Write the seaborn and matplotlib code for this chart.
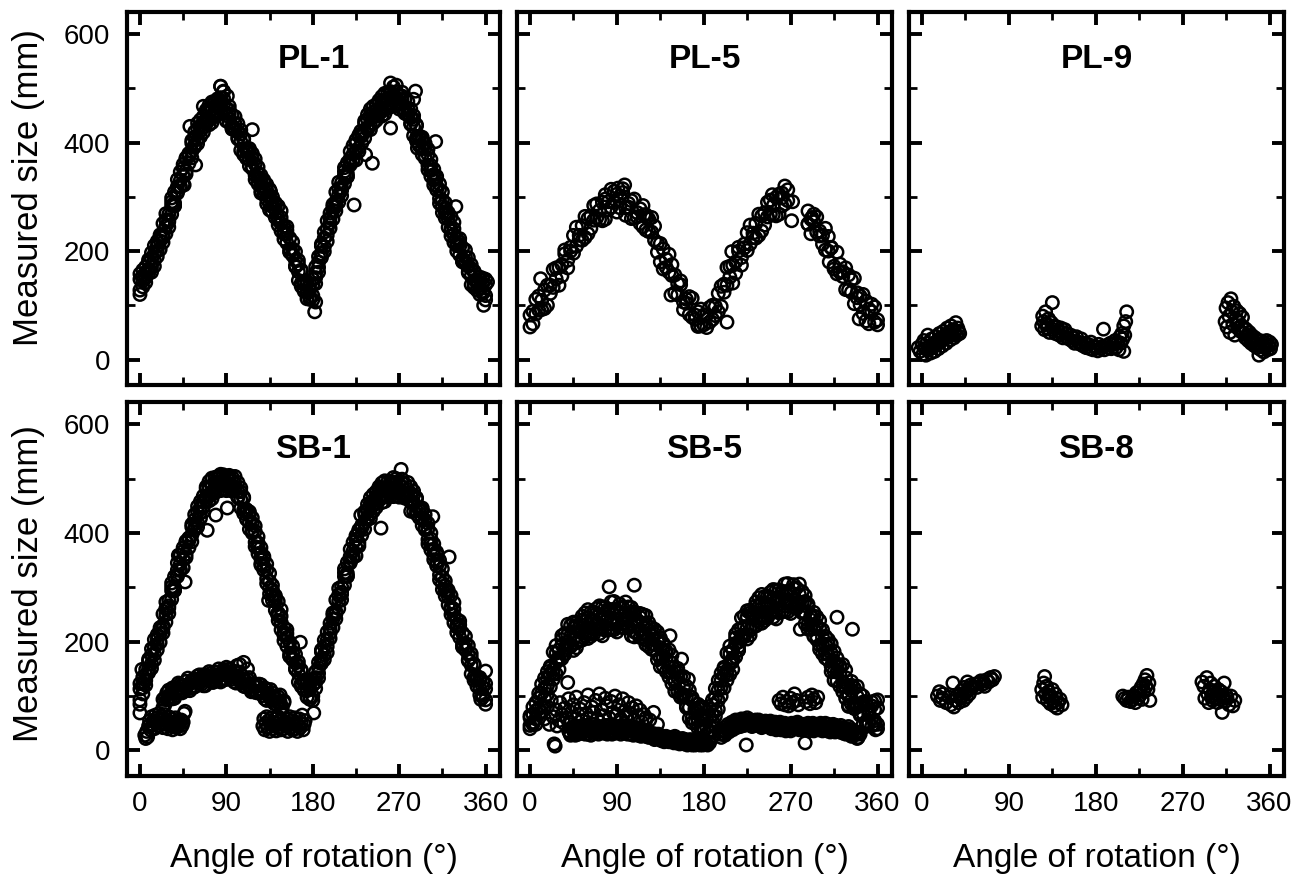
import numpy as np
import pandas as pd
import matplotlib
matplotlib.use("Agg")
import matplotlib.pyplot as plt
import seaborn as sns
from matplotlib.ticker import MultipleLocator

NA = np.nan

# Rotation angles (deg) of the full-turn scans
ANGLE_GRID = [0, 3, 6, 9, 12, 15, 18, 21, 24, 27, 30, 33, 36, 39, 42, 45, 48, 51, 54, 57,
              60, 63, 66, 69, 72, 75, 78, 81, 84, 87, 90, 93, 96, 99, 102, 105, 108, 111, 114, 117,
              120, 123, 126, 129, 132, 135, 138, 141, 144, 147, 150, 153, 156, 159, 162, 165, 168, 171, 174, 177,
              180, 183, 186, 189, 192, 195, 198, 201, 204, 207, 210, 213, 216, 219, 222, 225, 228, 231, 234, 237,
              240, 243, 246, 249, 252, 255, 258, 261, 264, 267, 270, 273, 276, 279, 282, 285, 288, 291, 294, 297,
              300, 303, 306, 309, 312, 315, 318, 321, 324, 327, 330, 333, 336, 339, 342, 345, 348, 351, 354, 357, 360]

# ---------------- PL-1 ----------------
pl1_pass1 = [148, 145, 171, 166, 186, 183, 218, 219, 225, 257,
             258, 284, 284, 319, 330, 339, 372, 375, 399, 396,
             426, 422, 448, 442, 458, 448, 476, 470, 478, 482,
             454, 453, 426, 435, 419, 402, 408, 384, 384, 356,
             360, 335, 340, 313, 312, 287, 300, 278, 257, 262,
             236, 231, 199, 204, 183, 162, 165, 139, 139, 115,
             138, 151, 190, 195, 224, 229, 270, 275, 283, 315,
             316, 340, 338, 371, 379, 384, 414, 412, 435, 428,
             452, 447, 470, 460, 474, 464, 491, 483, 477, 494,
             476, 479, 455, 463, 446, 429, 433, 407, 405, 375,
             378, 349, 351, 320, 313, 282, 289, 260, 237, 241,
             214, 209, 181, 189, 172, 154, 163, 141, 147, 126, 138]
pl1_pass2 = [128, 154, 151, 184, 170, 195, 190, 226, 230, 232,
             268, 268, 309, 307, 320, 353, 348, 379, 384, 420,
             406, 431, 428, 460, 442, 460, 448, 477, 483, 457,
             464, 437, 451, 423, 409, 416, 384, 388, 369, 380,
             340, 344, 320, 331, 296, 299, 272, 285, 262, 237,
             246, 215, 224, 192, 173, 176, 141, 143, 124, 139,
             118, 160, 170, 213, 208, 241, 242, 282, 288, 290,
             326, 324, 363, 359, 369, 398, 390, 416, 420, 452,
             432, 456, 450, 478, 458, 476, 463, 490, 482, 469,
             486, 463, 480, 451, 436, 443, 409, 411, 390, 399,
             358, 358, 331, 338, 297, 294, 261, 267, 242, 216,
             224, 193, 206, 177, 162, 168, 139, 145, 132, 150, 118]
pl1_pass3 = [158, 134, 161, 159, 197, 172, 209, 203, 251, 246,
             244, 291, 289, 332, 318, 360, 342, 380, 404, 392,
             436, 411, 438, 435, 469, 437, 467, 454, 504, 471,
             440, 460, 431, 448, 407, 423, 378, 389, 389, 352,
             370, 324, 330, 306, 323, 276, 291, 262, 283, 251,
             222, 238, 204, 217, 171, 183, 135, 144, 144, 111,
             148, 140, 180, 188, 235, 218, 261, 259, 309, 304,
             302, 347, 343, 384, 367, 405, 384, 417, 440, 424,
             462, 436, 460, 453, 485, 453, 482, 467, 503, 483,
             462, 486, 460, 476, 434, 450, 403, 412, 410, 371,
             388, 338, 341, 313, 324, 271, 280, 244, 263, 230,
             200, 216, 186, 202, 160, 175, 133, 146, 152, 122, 148]
pl1_pass4 = [120, 165, 142, 180, 161, 210, 200, 230, 216, 269,
             254, 298, 283, 310, 346, 323, 370, 362, 372, 410,
             398, 442, 419, 456, 433, 475, 458, 481, 469, 494,
             450, 467, 425, 426, 435, 386, 406, 371, 357, 370,
             332, 355, 311, 327, 287, 314, 282, 289, 248, 274,
             232, 245, 198, 195, 199, 146, 163, 126, 112, 129,
             110, 171, 161, 209, 199, 256, 252, 286, 274, 327,
             312, 354, 337, 362, 395, 368, 412, 399, 408, 442,
             424, 467, 441, 474, 449, 491, 473, 494, 468, 506,
             472, 493, 454, 454, 462, 413, 431, 394, 378, 389,
             350, 369, 322, 334, 288, 309, 271, 271, 228, 253,
             210, 223, 180, 180, 188, 138, 161, 128, 120, 140, 110]
pl1_extra_angle = [84, 87, 91, 66, 52, 58, 46, 126, 117, 136, 182, 183, 204,
                   223, 230, 235, 242, 261, 261, 287, 285, 289, 308, 329, 358, 362]
pl1_extra_size = [504, 495, 486, 467, 430, 359, 322, 307, 424, 310, 88, 106, 291,
                  285, 421, 378, 362, 427, 510, 495, 480, 390, 402, 282, 100, 143]

# ---------------- PL-5 ----------------
pl5_pass1 = [82, 66, 111, 91, 109, 94, 137, 122, 166, 149,
             170, 154, 195, 169, 207, 229, 209, 229, 220, 264,
             260, 242, 284, 261, 275, 256, 296, 276, 314, 290,
             305, 280, 308, 266, 288, 293, 261, 271, 251, 284,
             267, 236, 262, 220, 215, 180, 204, 170, 194, 155,
             156, 119, 138, 92, 111, 116, 78, 82, 61, 93,
             82, 59, 96, 74, 98, 88, 135, 124, 170, 152,
             174, 159, 200, 174, 213, 234, 213, 233, 224, 268,
             265, 248, 290, 268, 284, 265, 305, 283, 320, 293,
             NA, NA, NA, NA, NA, NA, 274, 232, 254, 263,
             228, 229, 202, 227, 206, 172, 198, 161, 162, 129,
             156, 124, 150, 114, 117, 85, 108, 66, 88, 97, 64]
pl5_pass2 = [60, 89, 84, 117, 92, 128, 100, 137, 133, 169,
             137, 175, 202, 183, 200, 196, 244, 221, 247, 225,
             232, 265, 257, 287, 258, 290, 259, 291, 281, 310,
             272, 301, 315, 280, 281, 260, 296, 263, 278, 245,
             239, 259, 235, 246, 198, 214, 167, 185, 161, 175,
             123, 140, 145, 106, 104, 83, 113, 74, 88, 62,
             64, 82, 69, 100, 81, 122, 98, 139, 137, 172,
             141, 180, 207, 188, 206, 201, 248, 225, 251, 229,
             237, 271, 263, 294, 267, 299, 268, 298, 287, 313,
             NA, NA, NA, NA, NA, NA, 250, 259, 268, 235,
             237, 213, 242, 200, 207, 167, 158, 176, 153, 169,
             128, 147, 103, 123, 101, 120, 71, 93, 102, 69, 73]
pl5_extra_angle = [11, 98, 91, 78, 251, 261, 272, 271, 118, 121, 209, 174, 204, 146, 341, 310, 292, 288]
pl5_extra_size = [149, 322, 316, 304, 304, 307, 291, 256, 267, 262, 199, 63, 69, 119, 75, 180, 262, 250]

# ---------------- PL-9 ----------------
pl9_angle = [-4, -2, 0, 1, 2, 3, 4, 5, 6, 7, 8, 9, 10, 11, 12, 13, 14, 15, 16, 17, 18, 19, 20,
             21, 22, 23, 24, 25, 26, 27, 28, 29, 30, 31, 32, 33, 34, 35, 36, 37, 38, 39,
             124, 125, 126, 127, 128, 129, 130, 131, 132, 134, 135, 136, 137, 138, 140, 141, 142,
             144, 145, 146, 148, 149, 150, 152, 154, 155, 157, 158, 160, 162, 164, 165, 167, 169,
             170, 172, 174, 175, 177, 178, 180, 182, 183, 185, 187, 188, 189, 191, 193, 195, 196,
             198, 200, 201, 203, 204, 205, 206, 207, 208, 209, 210, 211, 212, 209,
             314, 315, 316, 317, 318, 319, 320, 321, 322, 323, 324, 325, 326, 327, 328, 329, 330,
             331, 332, 333, 334, 335, 336, 337, 338, 339, 340, 341, 342, 343, 344, 345, 346, 347,
             348, 349, 350, 351, 352, 353, 354, 355, 356, 357, 358, 359, 360, 361, 362]
pl9_size = [22, 15, 28, 10, 35, 20, 8, 30, 45, 18, 25, 12, 38, 22, 30, 15, 42, 28, 35, 20, 48, 32, 40,
            25, 52, 38, 45, 30, 58, 42, 50, 36, 62, 46, 55, 40, 50, 68, 45, 58, 52, 48,
            62, 80, 70, 55, 88, 66, 58, 75, 50, 68, 105, 55, 62, 48, 60, 52, 45,
            58, 50, 40, 55, 42, 48, 38, 45, 35, 40, 30, 42, 32, 28, 38, 25, 30,
            22, 28, 20, 32, 18, 25, 22, 16, 28, 20, 24, 56, 18, 26, 22, 30, 20,
            28, 35, 22, 32, 18, 42, 30, 48, 38, 62, 45, 70, 88, 15,
            70, 95, 60, 105, 80, 50, 112, 88, 65, 98, 45, 75, 90, 58, 70, 85, 52,
            62, 78, 48, 58, 40, 55, 45, 35, 50, 38, 30, 44, 34, 26, 40, 30, 22,
            36, 8, 28, 18, 34, 24, 14, 30, 22, 35, 18, 26, 32, 20, 28]

# ---------------- SB-1 ----------------
sb1_pass1 = [113, 115, 149, 150, 176, 177, 213, 215, 225, 261,
             266, 294, 295, 332, 343, 352, 385, 386, 411, 410,
             439, 438, 468, 467, 484, 474, 502, 493, 487, 505,
             492, 499, 478, 491, 477, 462, 466, 438, 434, 404,
             403, 373, 373, 339, 332, 299, 304, 274, 248, 247,
             216, 208, 174, 179, 161, 142, 148, 124, 125, 98,
             120, 125, 162, 167, 192, 191, 234, 242, 251, 286,
             291, 320, 321, 357, 367, 374, 406, 409, 434, 429,
             455, 451, 476, 467, 481, 469, 494, 484, 476, 494,
             480, 485, 465, 480, 469, 456, 465, 441, 441, 410,
             408, 380, 380, 347, 339, 307, 312, 284, 259, 260,
             231, 224, 191, 197, 177, 157, 159, 131, 129, 102, 113]
sb1_pass2 = [93, 124, 129, 168, 160, 189, 185, 222, 230, 236,
             276, 278, 320, 320, 333, 366, 361, 390, 396, 434,
             419, 447, 448, 485, 468, 486, 474, 500, 492, 480,
             502, 483, 503, 479, 467, 476, 442, 442, 419, 428,
             383, 382, 353, 357, 316, 311, 276, 281, 253, 222,
             226, 192, 199, 167, 151, 156, 124, 128, 110, 122,
             100, 134, 142, 185, 176, 203, 206, 249, 256, 261,
             301, 304, 346, 345, 357, 388, 382, 413, 419, 453,
             435, 460, 456, 485, 465, 481, 466, 491, 481, 469,
             490, 469, 490, 468, 459, 470, 441, 445, 426, 434,
             388, 389, 360, 365, 323, 319, 284, 291, 264, 235,
             241, 208, 216, 185, 167, 171, 135, 135, 114, 126, 93]
sb1_pass3 = [123, 104, 139, 143, 187, 166, 204, 199, 251, 250,
             252, 301, 300, 345, 331, 373, 355, 391, 416, 406,
             449, 427, 458, 460, 495, 463, 493, 477, 508, 494,
             478, 506, 483, 504, 465, 483, 436, 443, 439, 400,
             413, 362, 363, 332, 343, 288, 295, 258, 274, 236,
             202, 215, 179, 192, 149, 163, 118, 129, 130, 94,
             130, 114, 152, 160, 203, 180, 225, 226, 277, 275,
             277, 327, 326, 370, 355, 395, 376, 414, 439, 425,
             465, 440, 466, 460, 492, 458, 485, 468, 502, 483,
             466, 492, 470, 493, 457, 477, 435, 446, 446, 406,
             418, 369, 370, 340, 350, 296, 303, 268, 285, 249,
             217, 231, 196, 210, 165, 178, 129, 136, 134, 98, 123]
sb1_pass4 = [85, 135, 120, 164, 151, 204, 195, 226, 216, 273,
             262, 308, 294, 323, 359, 336, 383, 373, 384, 424,
             411, 458, 439, 481, 459, 501, 484, 504, 478, 507,
             488, 503, 477, 482, 493, 446, 464, 425, 407, 418,
             375, 393, 344, 353, 307, 326, 286, 285, 239, 259,
             212, 222, 173, 170, 177, 126, 146, 111, 98, 112,
             92, 145, 133, 181, 167, 218, 216, 253, 242, 298,
             287, 334, 320, 348, 383, 358, 404, 396, 407, 443,
             427, 471, 447, 481, 456, 496, 476, 495, 467, 500,
             476, 499, 464, 471, 485, 440, 463, 428, 414, 424,
             380, 400, 351, 361, 314, 334, 294, 295, 250, 272,
             227, 238, 190, 188, 193, 141, 157, 118, 102, 116, 85]
sb1_extra_angle = [40, 47, 70, 79, 91, 126, 134, 143, 167, 181, 226, 230, 237, 251,
                   272, 282, 305, 322, 360, 355, 0, 2, 87, 101, 108, 104, 112, 90]
sb1_extra_size = [359, 310, 405, 433, 446, 341, 276, 251, 199, 69, 396, 433, 440, 409,
                  517, 440, 430, 356, 146, 94, 69, 149, 149, 156, 162, 158, 150, 153]
sb1_arch_angle = [24, 26, 28, 30, 32, 34, 36, 38, 40, 42, 44, 46, 48, 50, 52, 54, 56, 58, 60, 62,
                  64, 66, 68, 70, 72, 74, 76, 78, 80, 82, 84, 86, 88, 90, 92, 94, 96, 98, 100, 102,
                  104, 106, 108, 110, 112, 114, 116, 118, 120, 122, 124, 126, 128, 130, 132, 134,
                  136, 138, 140, 142, 144, 146, 148, 150]
sb1_arch_pass1 = [94, 84, 106, 96, 105, 95, 116, 108, 124, 108,
                  120, 109, 127, 120, 110, 129, 131, 118, 137, 124,
                  131, 119, 139, 130, 145, 128, 139, 127, 144, 137,
                  126, 144, 145, 131, 149, 134, 140, 126, 144, 132,
                  144, 124, 132, 117, 131, 121, 108, 123, 122, 106,
                  122, 106, 110, 95, 112, 100, 112, 92, 100, 85, 99, 89, 76, 91]
sb1_arch_pass2 = [79, 97, 93, 111, 96, 115, 96, 113, 107, 122,
                  106, 119, 116, 133, 114, 126, 116, 131, 124, 139,
                  122, 139, 119, 135, 128, 142, 125, 137, 133, 150,
                  130, 141, 130, 144, 136, 149, 131, 146, 124, 137,
                  127, 138, 118, 127, 120, 134, 112, 120, 107, 119,
                  109, 121, 101, 115, 92, 105, 95, 106, 86, 95, 88, 102, 80, 88]
sb1_low_angle = [5, 6, 7, 8, 9, 10, 11, 12, 13, 14, 15, 16, 17, 18, 19, 20, 21, 22, 23, 24, 25,
                 26, 27, 28, 29, 30, 31, 32, 33, 34, 35, 36, 37, 38, 39, 40, 41, 42, 43, 44, 45, 46, 47,
                 128, 129, 130, 131, 132, 133, 134, 135, 136, 137, 138, 139, 140, 141, 142, 143, 144,
                 145, 146, 147, 148, 149, 150, 151, 152, 153, 154, 155, 156, 157, 158, 159, 160, 161,
                 162, 163, 164, 165, 166, 167, 168, 169, 170, 171, 172]
sb1_low_size = [28, 22, 35, 25, 45, 55, 38, 62, 48, 55, 40, 65, 52, 60, 45, 68, 55, 50, 62, 42,
                58, 66, 48, 55, 40, 62, 50, 45, 58, 38, 52, 48, 60, 42, 55, 45, 50, 40, 56, 46,
                52, 68, 72,
                45, 58, 38, 50, 62, 42, 55, 35, 48, 60, 40, 52, 45, 58, 36, 50, 62, 42, 55, 38,
                48, 65, 40, 52, 45, 58, 35, 50, 62, 42, 55, 38, 48, 60, 40, 52, 35, 46, 58, 42,
                50, 65, 38, 48, 55]

# ---------------- SB-5 ----------------
sb5_pass1 = [64, 52, 88, 77, 105, 96, 145, 141, 141, 179,
             170, 194, 177, 213, 210, 204, 235, 219, 240, 217,
             244, 226, 254, 233, 249, 227, 263, 246, 233, 260,
             239, 252, 226, 254, 244, 231, 255, 232, 245, 214,
             233, 207, 226, 195, 201, 170, 197, 169, 145, 161,
             130, 134, 98, 117, 98, 79, 97, 69, 78, 45,
             64, 42, 76, 65, 97, 92, 142, 139, 139, 178,
             170, 197, 184, 225, 228, 225, 258, 244, 266, 245,
             272, 255, 284, 263, 279, 258, 295, 279, 266, 293,
             273, 288, 261, 287, 272, 253, 269, 240, 247, 210,
             224, 194, 210, 176, 179, 145, 170, 142, 118, 134,
             104, 110, 77, 99, 84, 68, 90, 67, 82, 55, 78]
sb5_pass2 = [46, 66, 58, 105, 81, 115, 103, 152, 149, 141,
             185, 169, 215, 194, 194, 225, 198, 225, 217, 253,
             214, 240, 224, 261, 225, 246, 221, 257, 241, 222,
             254, 227, 264, 235, 228, 252, 218, 238, 222, 250,
             203, 221, 196, 223, 177, 189, 155, 180, 153, 123,
             145, 109, 136, 98, 82, 100, 60, 75, 55, 81,
             40, 56, 46, 93, 73, 111, 100, 150, 147, 140,
             185, 172, 222, 206, 212, 246, 221, 250, 243, 281,
             242, 269, 254, 291, 255, 277, 253, 290, 274, 255,
             288, 263, 299, 268, 256, 274, 232, 246, 224, 246,
             194, 208, 180, 204, 155, 164, 128, 153, 126, 96,
             119, 85, 115, 80, 68, 89, 53, 73, 59, 91, 48]
sb5_pass3 = [60, 48, 73, 67, 122, 80, 132, 117, 181, 162,
             149, 204, 184, 232, 191, 236, 189, 227, 247, 211,
             259, 210, 239, 223, 266, 211, 250, 222, 273, 243,
             218, 262, 233, 273, 225, 263, 209, 240, 252, 208,
             248, 191, 211, 185, 218, 154, 184, 145, 185, 144,
             109, 144, 105, 136, 79, 111, 51, 77, 85, 39,
             79, 30, 61, 55, 114, 76, 129, 115, 179, 161,
             149, 207, 191, 244, 209, 257, 212, 252, 273, 239,
             287, 239, 269, 253, 296, 242, 282, 255, 306, 276,
             252, 298, 268, 306, 253, 285, 223, 248, 254, 204,
             239, 178, 195, 166, 196, 129, 157, 118, 158, 117,
             83, 120, 84, 118, 65, 100, 44, 75, 89, 49, 93]
sb5_pass4 = [40, 80, 48, 96, 71, 133, 119, 155, 131, 193,
             166, 211, 178, 199, 230, 184, 230, 202, 203, 237,
             206, 254, 214, 252, 215, 264, 237, 260, 223, 274,
             235, 269, 227, 240, 264, 211, 250, 215, 208, 234,
             195, 235, 186, 214, 167, 207, 171, 183, 135, 175,
             126, 151, 99, 103, 118, 59, 92, 52, 41, 65,
             36, 70, 36, 84, 63, 129, 116, 153, 129, 192,
             166, 214, 185, 211, 248, 205, 253, 227, 229, 265,
             234, 283, 244, 282, 245, 295, 269, 293, 256, 307,
             269, 305, 262, 273, 292, 233, 264, 223, 210, 230,
             186, 222, 170, 195, 145, 182, 144, 156, 108, 148,
             100, 127, 78, 85, 104, 48, 85, 50, 45, 75, 40]
sb5_extra_angle = [82, 108, 28, 39, 145, 157, 164, 216, 209, 280, 330, 358, 334, 318]
sb5_extra_size = [301, 304, 168, 125, 211, 168, 131, 199, 162, 223, 81, 38, 223, 245]

sb5_low_even_angle = [40, 42, 44, 46, 48, 50, 52, 54, 56, 58, 60, 62, 64, 66, 68, 70, 72, 74, 76, 78,
                      80, 82, 84, 86, 88, 90, 92, 94, 96, 98, 100, 102, 104, 106, 108, 110, 112, 114,
                      116, 118, 120, 122, 124, 126, 128, 130, 132, 134, 136, 138, 140, 142, 144, 146,
                      148, 150, 152, 154, 156, 158, 160, 162, 164, 166, 168, 170, 172, 174, 176, 178,
                      180, 182, 184, 186]
sb5_low_even_size = [36, 28, 40, 32, 44, 30, 38, 46, 34, 40,
                     30, 42, 36, 48, 32, 40, 44, 34, 38, 46,
                     30, 40, 36, 44, 32, 38, 42, 30, 40, 34,
                     44, 36, 30, 40, 34, 42, 28, 36, 30, 38,
                     26, 34, 28, 32, 24, 30, 22, 28, 18, 26,
                     20, 24, 16, 22, 18, 26, 14, 20, 16, 22,
                     12, 18, 14, 20, 10, 16, 12, 18, 10, 14, 12, 16, 10, 14]
sb5_low_odd_angle = [41, 43, 45, 47, 49, 51, 53, 55, 57, 59, 61, 63, 65, 67, 69, 71, 73, 75, 77, 79,
                     81, 83, 85, 87, 89, 91, 93, 95, 97, 99, 101, 103, 105, 107, 109, 111, 113, 115,
                     117, 119, 121, 123, 125, 127, 129, 131, 133, 135, 137, 139, 141, 143, 145, 147,
                     149, 151, 153, 155, 157, 159, 161, 163, 165, 167, 169, 171, 173, 175, 177, 179,
                     181, 183, 185]
sb5_low_odd_size = [32, 42, 36, 28, 40, 44, 32, 38, 30, 46,
                    36, 28, 40, 34, 44, 30, 38, 42, 32, 40,
                    46, 34, 30, 40, 44, 34, 38, 46, 32, 38,
                    30, 42, 36, 28, 38, 32, 40, 26, 34, 30,
                    36, 24, 30, 28, 20, 26, 30, 22, 24, 16,
                    26, 20, 18, 24, 14, 20, 22, 12, 18, 16,
                    20, 10, 16, 14, 18, 10, 14, 16, 12, 10, 14, 12, 16]
sb5_cloud_angle = [12, 15, 18, 20, 22, 24, 25, 26, 27, 28, 30, 31, 33, 35, 36, 38, 40, 41, 43, 45,
                   47, 48, 50, 52, 54, 56, 58, 60, 62, 64, 66, 68, 70, 72, 74, 76, 78, 80, 82, 84,
                   86, 88, 90, 92, 94, 96, 98, 100, 102, 104, 106, 108, 110, 112, 114, 116, 118,
                   120, 124, 128, 132]
sb5_cloud_size = [70, 58, 80, 48, 92, 62, 12, 8, 75, 45, 55, 88, 66, 50, 78, 60, 95, 52, 70, 84,
                  58, 98, 66, 76, 55, 88, 68, 102, 60, 80, 70, 92, 58, 104, 75, 64, 96, 82, 60, 90,
                  70, 100, 66, 84, 58, 95, 72, 62, 88, 68, 78, 56, 82, 64, 74, 52, 66,
                  60, 56, 70, 48]
sb5_band2_even_angle = [196, 198, 200, 202, 204, 206, 208, 210, 212, 214, 216, 218, 220, 222, 224,
                        226, 228, 230, 232, 234, 236, 238, 240, 242, 244, 246, 248, 250, 252, 254,
                        256, 258, 260, 262, 264, 266, 268, 270, 272, 274, 276, 278, 280, 282, 284,
                        286, 288, 290, 292, 294, 296, 298, 300, 302, 304, 306, 308, 310, 312, 314,
                        316, 318, 320, 322, 324, 326, 328, 330, 332, 334, 336, 338, 340, 342]
sb5_band2_even_size = [30, 24, 36, 28, 40, 34, 46, 38, 50, 42,
                       54, 44, 52, 46, 56, 48, 54, 44, 50, 56,
                       46, 52, 42, 48, 54, 44, 50, 40, 46, 52,
                       42, 48, 38, 46, 50, 40, 44, 36, 46, 50,
                       40, 44, 48, 38, 46, 42, 50, 40, 46, 36,
                       44, 48, 38, 46, 40, 50, 36, 44, 40, 48,
                       34, 42, 38, 46, 32, 40, 36, 44, 30, 38, 28, 34, 24, 30]
sb5_band2_odd_angle = [197, 199, 201, 203, 205, 207, 209, 211, 213, 215, 217, 219, 221, 223, 225,
                       227, 229, 231, 233, 235, 237, 239, 241, 243, 245, 247, 249, 251, 253, 255,
                       257, 259, 261, 263, 265, 267, 269, 271, 273, 275, 277, 279, 281, 283, 285,
                       287, 289, 291, 293, 295, 297, 299, 301, 303, 305, 307, 309, 311, 313, 315,
                       317, 319, 321, 323, 325, 327, 329, 331, 333, 335, 337, 339, 341]
sb5_band2_odd_size = [36, 30, 42, 34, 48, 40, 52, 44, 56, 46,
                      50, 58, 48, 52, 60, 50, 56, 46, 52, 48,
                      56, 46, 50, 44, 52, 46, 54, 44, 48, 38,
                      46, 52, 42, 46, 36, 48, 42, 50, 40, 46,
                      52, 38, 44, 48, 40, 46, 36, 44, 50, 40,
                      46, 42, 50, 36, 44, 40, 48, 34, 44, 38,
                      46, 40, 34, 42, 36, 30, 40, 34, 26, 36, 30, 22, 32]
sb5_cluster_angle = [258, 260, 262, 264, 266, 268, 270, 272, 274, 276, 278, 286, 288, 290, 292,
                     294, 296, 298, 224, 285]
sb5_cluster_size = [92, 86, 98, 84, 90, 82, 96, 88, 104, 92, 84, 90, 98, 86, 102,
                    94, 88, 98, 10, 14]

# ---------------- SB-8 ----------------
sb8_angle = [16, 18, 19, 21, 22, 25, 28, 30, 32, 33, 35, 36, 38, 39, 40, 41, 42, 43, 44, 45,
             46, 47, 48, 49, 50, 51, 53, 55, 57, 59, 61, 63, 65, 67, 69, 71, 73, 75,
             124, 125, 126, 127, 128, 129, 130, 131, 132, 133, 134, 135, 136, 137, 138, 139,
             140, 141, 143, 145,
             208, 210, 212, 214, 216, 218, 220, 221, 222, 224, 225, 226, 227, 228, 229, 230,
             231, 232, 233, 234, 235, 236,
             290, 292, 293, 295, 296, 297, 298, 299, 300, 301, 302, 303, 304, 305, 306, 307,
             308, 309, 310, 311, 312, 313, 314, 315, 316, 318, 320, 322, 324]
sb8_size = [100, 108, 92, 96, 104, 88, 98, 84, 124, 80, 92, 100, 88, 104, 96, 110, 100, 92, 116, 106,
            98, 126, 112, 104, 120, 114, 118, 122, 116, 124, 128, 122, 118, 130, 126, 134, 130, 136,
            112, 98, 124, 136, 104, 118, 92, 108, 100, 86, 96, 112, 90, 82, 104, 96,
            78, 88, 94, 84,
            100, 96, 92, 98, 90, 94, 100, 88, 106, 96, 110, 102, 116, 94, 122, 108,
            130, 118, 138, 112, 124, 92,
            126, 118, 96, 134, 104, 88, 112, 124, 100, 92, 108, 118, 96, 104, 88, 112,
            100, 94, 108, 70, 98, 124, 90, 102, 96, 84, 100, 82, 92]


def stack(*pairs):
    frames = [pd.DataFrame({"angle": a, "measured": m}) for a, m in pairs]
    return pd.concat(frames, ignore_index=True)


panels = [
    ("PL-1", stack((ANGLE_GRID, pl1_pass1), (ANGLE_GRID, pl1_pass2), (ANGLE_GRID, pl1_pass3),
                   (ANGLE_GRID, pl1_pass4), (pl1_extra_angle, pl1_extra_size))),
    ("PL-5", stack((ANGLE_GRID, pl5_pass1), (ANGLE_GRID, pl5_pass2),
                   (pl5_extra_angle, pl5_extra_size))),
    ("PL-9", stack((pl9_angle, pl9_size))),
    ("SB-1", stack((ANGLE_GRID, sb1_pass1), (ANGLE_GRID, sb1_pass2), (ANGLE_GRID, sb1_pass3),
                   (ANGLE_GRID, sb1_pass4),
                   (sb1_extra_angle, sb1_extra_size), (sb1_arch_angle, sb1_arch_pass1),
                   (sb1_arch_angle, sb1_arch_pass2), (sb1_low_angle, sb1_low_size))),
    ("SB-5", stack((ANGLE_GRID, sb5_pass1), (ANGLE_GRID, sb5_pass2), (ANGLE_GRID, sb5_pass3),
                   (ANGLE_GRID, sb5_pass4),
                   (sb5_extra_angle, sb5_extra_size), (sb5_low_even_angle, sb5_low_even_size),
                   (sb5_low_odd_angle, sb5_low_odd_size), (sb5_cloud_angle, sb5_cloud_size),
                   (sb5_band2_even_angle, sb5_band2_even_size),
                   (sb5_band2_odd_angle, sb5_band2_odd_size),
                   (sb5_cluster_angle, sb5_cluster_size))),
    ("SB-8", stack((sb8_angle, sb8_size))),
]

sns.set_theme(style="white", rc={
    "axes.edgecolor": "black", "xtick.color": "black", "ytick.color": "black",
    "text.color": "black", "axes.labelcolor": "black",
})
plt.rcParams["font.family"] = ["Liberation Sans", "DejaVu Sans"]

W, H = 1304, 875
fig = plt.figure(figsize=(W / 100, H / 100), dpi=100)
fig.patch.set_facecolor("white")

col_left = [127, 517, 909]
col_width = [373, 375, 375]
row_top = [12, 402]
row_height = [373, 374]

for idx, (title, df) in enumerate(panels):
    r, c = divmod(idx, 3)
    ax = fig.add_axes([col_left[c] / W, 1 - (row_top[r] + row_height[r]) / H,
                       col_width[c] / W, row_height[r] / H])
    sns.scatterplot(data=df, x="angle", y="measured", ax=ax, marker="o", s=80,
                    color="black", facecolor="none", edgecolor="black",
                    linewidth=1.8, legend=False)
    ax.set_xlim(-13.5, 375)
    ax.set_ylim(-47, 641)
    ax.set_xlabel("")
    ax.set_ylabel("")
    ax.xaxis.set_major_locator(MultipleLocator(90))
    ax.xaxis.set_minor_locator(MultipleLocator(45))
    ax.yaxis.set_major_locator(MultipleLocator(200))
    ax.yaxis.set_minor_locator(MultipleLocator(100))
    ax.tick_params(which="both", direction="in", top=True, right=True, bottom=True, left=True,
                   colors="black")
    ax.tick_params(which="major", length=9, width=2.8, labelsize=20)
    ax.tick_params(which="minor", length=6, width=2.0)
    ax.tick_params(axis="y", which="major", pad=12)
    ax.tick_params(axis="x", which="major", pad=11)
    if r == 0:
        ax.tick_params(labelbottom=False)
    if c > 0:
        ax.tick_params(labelleft=False)
    for sp in ax.spines.values():
        sp.set_linewidth(3.0)
        sp.set_color("black")
    ax.text(0.5, 1 - 56 / row_height[r], title, transform=ax.transAxes, ha="center",
            va="baseline", fontsize=24, fontweight="bold")

# Shared axis titles
for yc in (188, 584):
    fig.text(12 / W, 1 - yc / H, "Measured size (mm)", rotation=90, ha="left", va="center",
             fontsize=25)
for c in range(3):
    xc = col_left[c] + col_width[c] / 2
    fig.text(xc / W, 1 - 867 / H, "Angle of rotation (°)", ha="center", va="baseline",
             fontsize=24)

fig.savefig("out.png", dpi=100, facecolor="white")
